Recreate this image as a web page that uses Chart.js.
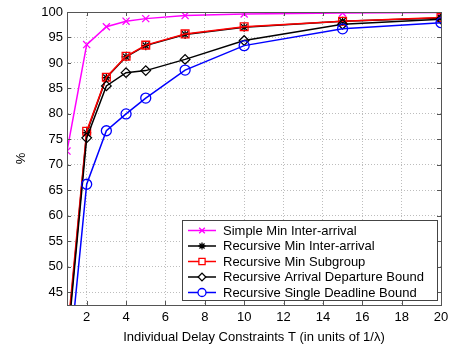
<!DOCTYPE html>
<html>
<head>
<meta charset="utf-8">
<script src="https://cdn.jsdelivr.net/npm/chart.js@4.4.0/dist/chart.umd.min.js"></script>
<style>
  html, body { margin: 0; padding: 0; background: #fff; }
  #wrap { width: 450px; height: 350px; }
</style>
</head>
<body>
<div id="wrap"><canvas id="chart" width="450" height="350"></canvas></div>
<script>
// x values: individual delay constraint T
const delayT = [1, 2, 3, 4, 5, 7, 10, 15, 20];

// series values (%); the x=1 points of the recursive curves sit below the axis
const simpleMinInterArrival = [72.7, 93.6, 97.1, 98.2, 98.7, 99.3, 99.6, 99.8, 99.9];
const recursiveMinInterArrival = [35, 76.3, 87.1, 91.2, 93.4, 95.6, 97.0, 98.2, 98.8];
const recursiveMinSubgroup = [36, 76.6, 87.2, 91.3, 93.5, 95.7, 97.1, 98.2, 98.9];
const recursiveArrivalDeparture = [34, 75.3, 85.5, 88.1, 88.5, 90.7, 94.4, 97.6, 98.6];
const recursiveSingleDeadline = [27, 66.2, 76.7, 80.0, 83.1, 88.6, 93.4, 96.7, 97.9];

const seriesLabels = [
    'Simple Min Inter-arrival',
    'Recursive Min Inter-arrival',
    'Recursive Min Subgroup',
    'Recursive Arrival Departure Bound',
    'Recursive Single Deadline Bound'
];

const xTicks = [2, 4, 6, 8, 10, 12, 14, 16, 18, 20];
const yTicks = [45, 50, 55, 60, 65, 70, 75, 80, 85, 90, 95, 100];

const FONT = '"Liberation Sans", Arial, sans-serif';
Chart.defaults.font.family = FONT;
Chart.defaults.font.size = 13;
Chart.defaults.color = '#000';

function makeSet(label, values, color, style, radius, order) {
    return {
        label: label,
        data: delayT.map((t, i) => ({ x: t, y: values[i] })),
        borderColor: color,
        backgroundColor: color,
        borderWidth: 1.5,
        pointStyle: style,
        pointRadius: radius,
        pointBorderColor: color,
        pointBackgroundColor: 'rgba(0,0,0,0)',
        pointBorderWidth: 1.3,
        tension: 0,
        order: order
    };
}

// matlab-like frame, inward ticks and the boxed legend inside the plot
const framePlugin = {
    id: 'frame',
    afterDraw(chart) {
        const ctx = chart.ctx;
        const a = chart.chartArea;
        const xs = chart.scales.x, ys = chart.scales.y;
        ctx.save();
        ctx.strokeStyle = '#555';
        ctx.lineWidth = 1;
        ctx.beginPath();
        ctx.rect(Math.round(a.left) + 0.5, Math.round(a.top) + 0.5,
                 Math.round(a.right - a.left), Math.round(a.bottom - a.top));
        ctx.stroke();

        const tl = 4;
        ctx.beginPath();
        xTicks.forEach(v => {
            const px = Math.round(xs.getPixelForValue(v)) + 0.5;
            ctx.moveTo(px, a.bottom); ctx.lineTo(px, a.bottom - tl);
            ctx.moveTo(px, a.top); ctx.lineTo(px, a.top + tl);
        });
        yTicks.forEach(v => {
            const py = Math.round(ys.getPixelForValue(v)) + 0.5;
            ctx.moveTo(a.left, py); ctx.lineTo(a.left + tl, py);
            ctx.moveTo(a.right, py); ctx.lineTo(a.right - tl, py);
        });
        ctx.stroke();

        // legend box
        const box = { x: 182, y: 220, w: 255, h: 80 };
        ctx.fillStyle = '#fff';
        ctx.fillRect(box.x, box.y, box.w, box.h);
        ctx.strokeStyle = '#444';
        ctx.strokeRect(box.x + 0.5, box.y + 0.5, box.w, box.h);
        ctx.font = '13px ' + FONT;
        ctx.textBaseline = 'middle';
        ctx.textAlign = 'left';
        chart.data.datasets.forEach((ds, i) => {
            const y = box.y + 10.5 + i * 15.5;
            ctx.strokeStyle = ds.borderColor;
            ctx.lineWidth = 1.5;
            ctx.beginPath();
            ctx.moveTo(box.x + 6, y);
            ctx.lineTo(box.x + 34, y);
            ctx.stroke();
            ctx.lineWidth = 1.3;
            ctx.fillStyle = '#fff';
            Chart.helpers.drawPoint(ctx, {
                pointStyle: ds.pointStyle,
                radius: ds.pointRadius * 0.8,
                rotation: 0,
                borderWidth: 1.3
            }, box.x + 20, y);
            ctx.fillStyle = '#000';
            ctx.fillText(ds.label, box.x + 41, y + 0.5);
        });
        ctx.restore();
    }
};

const chart = new Chart(document.getElementById('chart').getContext('2d'), {
    type: 'line',
    data: {
        datasets: [
            makeSet(seriesLabels[0], simpleMinInterArrival, '#ff00ff', 'crossRot', 5, 5),
            makeSet(seriesLabels[1], recursiveMinInterArrival, '#000000', 'star', 4.5, 4),
            makeSet(seriesLabels[2], recursiveMinSubgroup, '#ff0000', 'rect', 5.5, 3),
            makeSet(seriesLabels[3], recursiveArrivalDeparture, '#000000', 'rectRot', 4.8, 2),
            makeSet(seriesLabels[4], recursiveSingleDeadline, '#0000ff', 'circle', 5, 1)
        ]
    },
    options: {
        responsive: false,
        animation: false,
        devicePixelRatio: 1,
        layout: { padding: { top: 12, right: 9, left: 0, bottom: 0 } },
        plugins: {
            legend: { display: false },
            tooltip: { enabled: false }
        },
        scales: {
            x: {
                type: 'linear',
                min: 1,
                max: 20,
                afterBuildTicks: axis => { axis.ticks = xTicks.map(v => ({ value: v })); },
                afterFit: axis => {
                    axis.height = 45;
                    axis.paddingLeft = 0;
                    axis.paddingRight = 0;
                },
                ticks: { padding: 5, maxRotation: 0, font: { size: 13 } },
                grid: { color: '#bdbdbd', lineWidth: 1, drawTicks: false },
                border: { color: '#555', dash: [1, 2] },
                title: {
                    display: true,
                    text: 'Individual Delay Constraints T (in units of 1/\u03BB)',
                    font: { size: 13 },
                    padding: { top: 0, bottom: 5 }
                }
            },
            y: {
                type: 'linear',
                min: 42.5,
                max: 100,
                afterBuildTicks: axis => { axis.ticks = yTicks.map(v => ({ value: v })); },
                afterFit: axis => {
                    axis.width = 67;
                    axis.paddingTop = 0;
                    axis.paddingBottom = 0;
                },
                ticks: { padding: 4, font: { size: 13 } },
                grid: { color: '#bdbdbd', lineWidth: 1, drawTicks: false },
                border: { color: '#555', dash: [1, 2] },
                title: {
                    display: true,
                    text: '%',
                    font: { size: 13 },
                    padding: { top: 14, bottom: 0 }
                }
            }
        }
    },
    plugins: [framePlugin]
});
</script>
</body>
</html>
